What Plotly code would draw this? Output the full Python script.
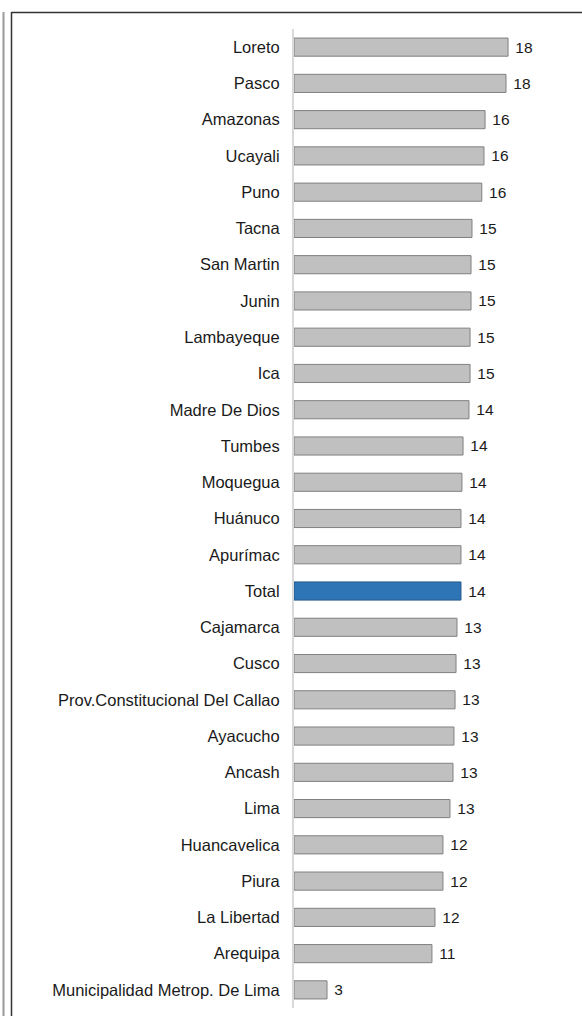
import plotly.graph_objects as go

# regions, top to bottom
regions = [
    "Loreto", "Pasco", "Amazonas", "Ucayali", "Puno", "Tacna", "San Martin",
    "Junin", "Lambayeque", "Ica", "Madre De Dios", "Tumbes", "Moquegua",
    "Huánuco", "Apurímac", "Total", "Cajamarca", "Cusco",
    "Prov.Constitucional Del Callao", "Ayacucho", "Ancash", "Lima",
    "Huancavelica", "Piura", "La Libertad", "Arequipa",
    "Municipalidad Metrop. De Lima",
]
values = [
    17.69, 17.52, 15.79, 15.70, 15.52, 14.71, 14.63,
    14.63, 14.55, 14.55, 14.46, 13.97, 13.88,
    13.80, 13.80, 13.80, 13.47, 13.39,
    13.31, 13.22, 13.14, 12.89,
    12.31, 12.31, 11.65, 11.40,
    2.73,
]

# figure geometry
W, H = 582, 1016
L, R, T, B = 294, 12, 29, 8
pw = W - L - R
ph = H - T - B

fill = ["#2e75b6" if r == "Total" else "#c0c0c0" for r in regions]
edge = ["#24598a" if r == "Total" else "#808080" for r in regions]

fig = go.Figure()
fig.add_trace(go.Bar(
    x=values,
    y=regions,
    orientation="h",
    marker=dict(color=fill, line=dict(color=edge, width=1)),
    texttemplate=" %{x:.0f}",
    textposition="outside",
    textfont=dict(family="Liberation Sans, Arial", size=15.5, color="#1a1a1a"),
    cliponaxis=False,
))


def px_x(p):
    return (p - L) / pw


def px_y(p):
    return 1 - (p - T) / ph


frame = dict(color="#333333", width=1.5)
fig.update_layout(
    width=W,
    height=H,
    margin=dict(l=L, r=R, t=T, b=B),
    plot_bgcolor="white",
    paper_bgcolor="white",
    showlegend=False,
    bargap=0.5,
    font=dict(family="Liberation Sans, Arial", size=16.5, color="#1a1a1a"),
    xaxis=dict(visible=False, range=[0, pw / 12.1]),
    yaxis=dict(
        autorange="reversed",
        showline=True,
        linecolor="#d9d9d9",
        linewidth=2,
        showgrid=False,
        ticks="",
        ticklabelstandoff=9,
        tickfont=dict(size=16.5, color="#1a1a1a"),
    ),
    shapes=[
        # outer grey edge on the far left
        dict(type="line", xref="paper", yref="paper",
             x0=px_x(3.5), x1=px_x(3.5), y0=px_y(12), y1=px_y(H + 5),
             line=dict(color="#999999", width=2)),
        # chart box left and top edges
        dict(type="line", xref="paper", yref="paper",
             x0=px_x(11.5), x1=px_x(11.5), y0=px_y(12), y1=px_y(H + 5),
             line=frame),
        dict(type="line", xref="paper", yref="paper",
             x0=px_x(11.5), x1=px_x(W + 5), y0=px_y(12.5), y1=px_y(12.5),
             line=frame),
    ],
)

# drop the browser's default page margin so the figure sits at 0,0
fig.write_html(
    "out.html",
    config={"displayModeBar": False},
    post_script="document.body.style.margin='0';",
)
